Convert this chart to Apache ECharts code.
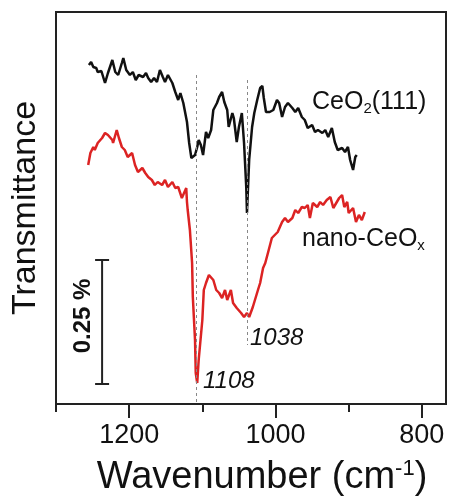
<!DOCTYPE html>
<html>
<head>
<meta charset="utf-8">
<script src="https://cdn.jsdelivr.net/npm/echarts@6/dist/echarts.min.js"></script>
<style>
  html, body { margin: 0; padding: 0; background: #fff; }
  #main { width: 453px; height: 498px; }
</style>
</head>
<body>
<div id="main"></div>
<script>
// CeO2(111) spectrum (wavenumber, transmittance a.u.)
var ceoWn = [1255,1252,1249,1245,1243,1238,1233,1229,1223,1219,1215,1210,1208,1204,1199,1195,1191,1187,1181,1177,
  1174,1170,1166,1162,1158,1154,1151,1147,1141,1137,1133,1130,1126,1121,1118,1115,1113,1110,1107,1105,
  1102,1099,1095,1092,1088,1085,1080,1077,1073,1070,1066,1064,1059,1057,1053,1050,1046,1043,1040,1039,
  1036,1032,1029,1025,1021,1018,1016,1013,1008,1003,998,995,991,987,983,977,973,969,964,960,
  956,950,946,942,936,932,928,923,919,915,909,905,901,898,894,891,889];
var ceoT = [339,342,337,336,332,333,321,331,344,332,329,341,346,334,329,332,324,329,327,331,
  326,322,326,322,334,327,322,329,321,312,304,311,301,282,261,246,246,249,257,264,
  259,249,272,266,274,294,301,307,312,302,294,277,291,286,262,277,291,261,217,191,
  244,277,291,304,316,318,306,292,292,294,304,301,287,297,301,296,292,296,287,284,
  276,279,272,274,271,274,267,276,262,254,256,252,257,244,234,247,249];

// nano-CeOx spectrum
var nanoWn = [1256,1253,1249,1247,1243,1237,1233,1229,1223,1222,1217,1214,1210,1206,1202,1196,1192,1188,1182,1178,
  1174,1169,1165,1161,1155,1151,1147,1141,1137,1133,1128,1122,1121,1120,1117,1114,1113,1110,1109,1107,
  1105,1100,1098,1095,1091,1085,1081,1077,1073,1069,1066,1061,1058,1053,1047,1043,1039,1036,1031,1024,
  1021,1017,1014,1010,1005,1001,997,991,987,983,977,973,969,964,960,956,953,949,943,939,
  935,930,925,921,917,913,909,906,902,900,894,890,886,882,878];
var nanoT = [239,251,257,254,261,266,271,269,264,261,274,266,257,254,247,251,239,232,236,231,
  227,224,219,222,219,224,217,222,216,217,206,216,202,194,174,141,107,64,31,21,
  44,84,114,121,129,124,114,111,106,114,104,114,101,96,91,87,91,87,97,114,
  121,136,141,152,166,169,172,182,186,182,186,194,191,197,196,199,186,201,197,202,
  199,204,207,196,201,206,209,197,202,191,196,182,189,184,192];

var peaks = [1108, 1038];
var xLabels = [1200, 1000, 800];
var xMinor = [1300, 1100, 900];
var scaleBar = [1237, 20, 144];   // x, bottom, top (0.25 %)

function zip(a, b) {
  return a.map(function (v, i) { return [v, b[i]]; });
}

var FONT = 'Liberation Sans, Arial, sans-serif';
var myChart = echarts.init(document.getElementById('main'));

var option = {
  animation: false,
  backgroundColor: '#fff',
  grid: { left: 56, right: 7, top: 12, bottom: 94, show: true, borderColor: '#222', borderWidth: 2,
    outerBoundsMode: 'none', containLabel: false },
  xAxis: [{
    type: 'value', min: 767, max: 1300, inverse: true,
    name: 'Wavenumber (cm{sup|-1})', nameLocation: 'middle', nameGap: 54,
    nameTextStyle: { fontFamily: FONT, fontSize: 38, color: '#111', padding: [0, 0, 0, 22], lineHeight: 40,
      rich: { sup: { fontFamily: FONT, fontSize: 22, verticalAlign: 'top', lineHeight: 40, color: '#111' } } },
    axisLine: { lineStyle: { color: '#222', width: 2 } },
    axisTick: { customValues: xLabels, length: 14, lineStyle: { color: '#222', width: 2 } },
    axisLabel: { customValues: xLabels, fontFamily: FONT, fontSize: 27, color: '#111', margin: 18,
      formatter: function (v) { return String(v); } },
    splitLine: { show: false }
  }, {
    type: 'value', min: 767, max: 1300, inverse: true, position: 'bottom',
    axisLine: { show: false },
    axisTick: { customValues: xMinor, length: 8, lineStyle: { color: '#222', width: 2 } },
    axisLabel: { show: false, customValues: xMinor },
    splitLine: { show: false }
  }],
  yAxis: {
    type: 'value', min: 0, max: 392,
    name: 'Transmittance', nameLocation: 'middle', nameGap: 13,
    nameTextStyle: { fontFamily: FONT, fontSize: 34, color: '#111' },
    axisLine: { show: true, lineStyle: { color: '#222', width: 2 } },
    axisTick: { show: false },
    axisLabel: { show: false },
    splitLine: { show: false }
  },
  series: [{
    name: 'CeO2(111)', type: 'line', data: zip(ceoWn, ceoT),
    symbol: 'none', lineStyle: { color: '#111', width: 2.5 }
  }, {
    name: 'nano-CeOx', type: 'line', data: zip(nanoWn, nanoT),
    symbol: 'none', lineStyle: { color: '#dc2323', width: 2.5 },
    markLine: {
      silent: true, symbol: 'none', label: { show: false },
      lineStyle: { color: '#888', type: [3, 3], width: 1 },
      data: [
        [{ coord: [peaks[0], 329] }, { coord: [peaks[0], 0] }],
        [{ coord: [peaks[1], 324] }, { coord: [peaks[1], 59] }]
      ]
    }
  }, {
    type: 'custom', data: [scaleBar],
    encode: { x: 0, y: [1, 2] },
    renderItem: function (params, api) {
      var p0 = api.coord([api.value(0), api.value(1)]);
      var p1 = api.coord([api.value(0), api.value(2)]);
      var st = { stroke: '#222', lineWidth: 2 };
      return {
        type: 'group',
        children: [
          { type: 'line', shape: { x1: p0[0], y1: p0[1], x2: p1[0], y2: p1[1] }, style: st },
          { type: 'line', shape: { x1: p0[0] - 7, y1: p0[1], x2: p0[0] + 7, y2: p0[1] }, style: st },
          { type: 'line', shape: { x1: p1[0] - 7, y1: p1[1], x2: p1[0] + 7, y2: p1[1] }, style: st },
          { type: 'text', x: p0[0] - 19, y: (p0[1] + p1[1]) / 2 - 6, rotation: Math.PI / 2,
            style: { text: '0.25 %', font: 'bold 24px ' + FONT, fill: '#111', align: 'center', verticalAlign: 'middle' } }
        ]
      };
    }
  }],
  graphic: [
    { type: 'text', left: 312, top: 90,
      style: { text: 'CeO{sub|2}(111)', font: '25px ' + FONT, fill: '#111',
        rich: { sub: { font: '15px ' + FONT, verticalAlign: 'bottom', padding: [12, 0, 0, 0] } } } },
    { type: 'text', left: 302, top: 227,
      style: { text: 'nano-CeO{sub|x}', font: '25px ' + FONT, fill: '#111',
        rich: { sub: { font: '15px ' + FONT, verticalAlign: 'bottom', padding: [12, 0, 0, 0] } } } },
    { type: 'text', left: 203, top: 369,
      style: { text: '1108', font: 'italic 24px ' + FONT, fill: '#111' } },
    { type: 'text', left: 250, top: 326,
      style: { text: '1038', font: 'italic 24px ' + FONT, fill: '#111' } }
  ]
};

myChart.setOption(option);
</script>
</body>
</html>
